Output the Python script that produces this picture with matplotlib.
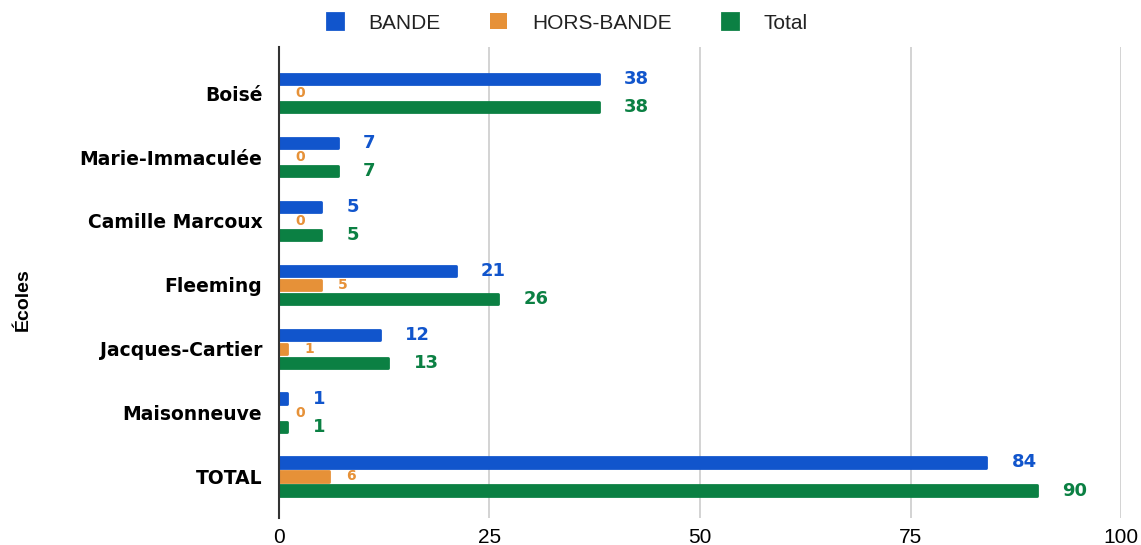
import matplotlib.pyplot as plt
import numpy as np

ecoles = ['Boisé', 'Marie-Immaculée', 'Camille Marcoux', 'Fleeming',
          'Jacques-Cartier', 'Maisonneuve', 'TOTAL']
bande = [38, 7, 5, 21, 12, 1, 84]
hors_bande = [0, 0, 0, 5, 1, 0, 6]
total = [38, 7, 5, 26, 13, 1, 90]
xticks = [0, 25, 50, 75, 100]

c_bande = '#1155cc'
c_hors = '#e69138'
c_total = '#0b8043'

plt.rcParams['font.family'] = ['Liberation Sans', 'DejaVu Sans']

fig = plt.figure(figsize=(11.41, 5.45), dpi=100)
ax = fig.add_axes([0.2445, 0.0495, 0.738, 0.864])

y = np.arange(len(ecoles))
h = 0.16
off = 0.22
series = [(bande, c_bande, -off, 'BANDE', 13),
          (hors_bande, c_hors, 0, 'HORS-BANDE', 10),
          (total, c_total, off, 'Total', 13)]

for vals, col, dy, name, fs in series:
    lw = [2 if v > 0 else 0 for v in vals]
    ax.barh(y + dy, vals, height=h, color=col, edgecolor=col, linewidth=lw,
            joinstyle='round', label=name, zorder=3)
    for yi, v in zip(y, vals):
        ax.text(v + (2.0 if fs < 11 else 3.0), yi + dy, str(v), color=col,
                fontsize=fs, fontweight='bold', va='center', ha='left',
                family=['DejaVu Sans'])

ax.set_xlim(0, 100)
ax.set_ylim(6.65, -0.72)
ax.set_xticks(xticks)
ax.set_xticklabels([str(t) for t in xticks], fontsize=15)
ax.set_yticks(y)
ax.set_yticklabels(ecoles, fontsize=13.5, fontweight='bold', family=['DejaVu Sans'])
ax.tick_params(length=0, pad=12)
ax.tick_params(axis='x', pad=7)
ax.grid(axis='x', color='#cccccc', linewidth=1.2, zorder=0)
for s in ['top', 'right', 'bottom']:
    ax.spines[s].set_visible(False)
ax.spines['left'].set_color('#333333')
ax.spines['left'].set_linewidth(1.5)
ax.spines['left'].set_zorder(4)

fig.text(0.02, 0.45, 'Écoles', rotation=90, fontsize=14, fontweight='bold',
         va='center', ha='center', family=['Liberation Sans Narrow', 'Liberation Sans'])

leg = fig.legend(loc='upper center', bbox_to_anchor=(0.497, 1.01), ncol=3,
                 frameon=False, fontsize=15, handlelength=0.8, handleheight=0.8,
                 columnspacing=2.4, handletextpad=1.2)
for t in leg.get_texts():
    t.set_color('#222222')

fig.savefig('out.png', dpi=100)
